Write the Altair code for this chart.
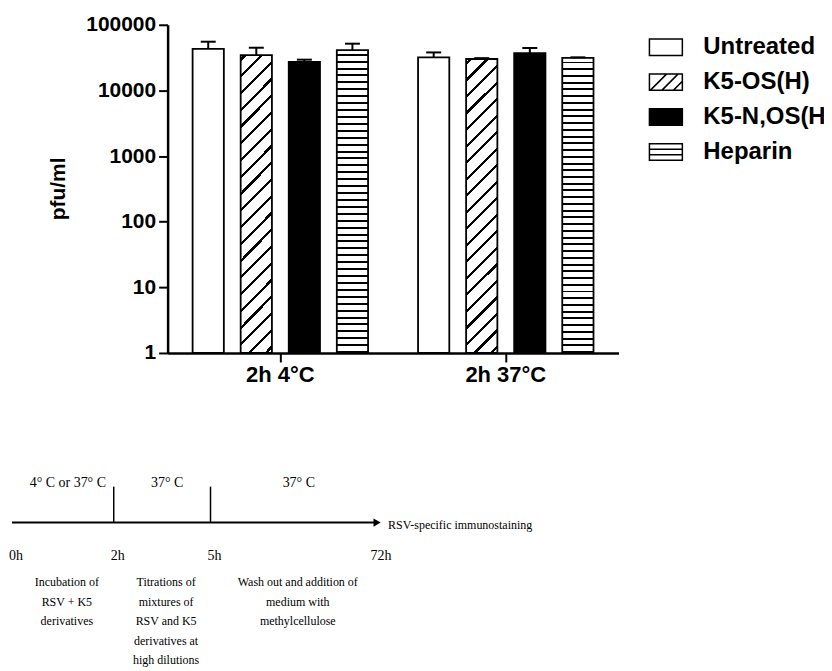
import altair as alt
import pandas as pd

# ---------------- data ----------------
groups = ["2h 4°C", "2h 37°C"]
treatments = ["Untreated", "K5-OS(H)", "K5-N,OS(H)", "Heparin"]
mean_4c = [42800, 34600, 27100, 41200]
err_4c = [12400, 10100, 2300, 10300]
mean_37c = [31800, 30100, 37100, 31200]
err_37c = [6100, 900, 7200, 700]
y_ticks = [1, 10, 100, 1000, 10000, 100000]

hours = [0, 2, 5, 72]
hour_labels = ["0h", "2h", "5h", "72h"]
phase_start = [0, 2, 5]
phase_end = [2, 5, 72]
phase_temp = ["4° C or 37° C", "37° C", "37° C"]
phase_desc = [
    "Incubation of\nRSV + K5\nderivatives",
    "Titrations of\nmixtures of\nRSV and K5\nderivatives at\nhigh dilutions",
    "Wash out and addition of\nmedium with\nmethylcellulose",
]
end_label = "RSV-specific immunostaining"

# ---------------- tables ----------------
rows = []
for g, means, errs in [(groups[0], mean_4c, err_4c), (groups[1], mean_37c, err_37c)]:
    for t, m, e in zip(treatments, means, errs):
        rows.append({"group": g, "treatment": t, "mean": m, "hi": m + e})
bar_df = pd.DataFrame(rows)

hours_df = pd.DataFrame({"hour": hours, "label": hour_labels})
phase_df = pd.DataFrame({"start": phase_start, "end": phase_end,
                         "temp": phase_temp, "desc": phase_desc})
span_df = pd.DataFrame({"start": [hours[0]], "end": [hours[-1]], "label": [end_label]})

# ---------------- styles ----------------
W, H = 818, 663
FONT = "Liberation Sans"
SERIF = "Liberation Serif"


def stripes(period, thick, phase=0.0):
    stops = [{"offset": 0, "color": "white"}]
    t = phase
    while t < 1:
        a = max(t, 0.0)
        b = min(t + thick, 1.0)
        stops += [{"offset": a, "color": "white"}, {"offset": a, "color": "black"},
                  {"offset": b, "color": "black"}, {"offset": b, "color": "white"}]
        t += period
    stops.append({"offset": 1, "color": "white"})
    return stops


bw, bh = 31.5, 297.0
c = (bw + bh) / (bw ** 2 + bh ** 2)
diag_fill = {"gradient": "linear", "x1": 0, "y1": 0, "x2": c * bw, "y2": c * bh,
             "stops": stripes(16.7 / (bw + bh), 3.2 / (bw + bh), 0.01)}
horiz_fill = {"gradient": "linear", "x1": 0, "y1": 0, "x2": 0, "y2": 1,
              "stops": stripes(6.85 / 300.0, 2.0 / 300.0, 0.012)}
bar_fills = ["white", diag_fill, "black", horiz_fill]

sym_paths = [
    "M-1,-0.5H1V0.5H-1Z",
    "M-1,-0.5H1V0.5H-1Z M-0.95,0.5L0.05,-0.5 M-0.25,0.5L0.75,-0.5 M0.45,0.5L1,-0.05",
    "M-1,-0.5H1V0.5H-1Z",
    "M-1,-0.5H1V0.5H-1Z M-1,-0.1667H1 M-1,0.1667H1",
]
sym_fills = ["white", "white", "black", "white"]
sym_strokes = ["black", "black", "black", "black"]

X_AXIS_Y = 345
x_enc = alt.X("group:N", sort=groups,
              scale=alt.Scale(domain=groups, range=[160, 612], paddingInner=0, paddingOuter=0),
              axis=alt.Axis(title=None, orient="bottom", offset=X_AXIS_Y - H, labelAngle=0,
                            labelFont=FONT, labelFontSize=22, labelFontWeight="bold",
                            labelColor="black", labelPadding=3, tickSize=9, tickWidth=2,
                            tickColor="black", domainWidth=2.5, domainColor="black",
                            grid=False))
xo_enc = alt.XOffset("treatment:N", sort=treatments,
                     scale=alt.Scale(domain=treatments, paddingInner=0.35, paddingOuter=0.52))
y_scale = alt.Scale(type="log", domain=[1, 100000], range=[X_AXIS_Y, 16], nice=False)
y_enc = alt.Y("mean:Q", scale=y_scale,
              axis=alt.Axis(title="pfu/ml", orient="left", offset=-160, values=y_ticks,
                            format="d", grid=False, labelFont=FONT, labelFontSize=21,
                            labelFontWeight="bold", labelColor="black", labelPadding=3,
                            tickSize=9, tickWidth=2, tickColor="black", domainWidth=2.5,
                            domainColor="black", titleFont=FONT, titleFontSize=21,
                            titleFontWeight="bold", titleColor="black", titleX=-109,
                            titleY=180, titleBaseline="middle", titleAlign="center"))

base = alt.Chart(bar_df)
bar_layers = []
for t, f in zip(treatments, bar_fills):
    bar_layers.append(
        base.transform_filter(alt.datum.treatment == t)
        .mark_bar(fill=f, stroke="black", strokeWidth=1.8)
        .encode(x=x_enc, xOffset=xo_enc, y=y_enc, y2=alt.Y2Datum(1))
    )

err_rule = base.mark_rule(color="black", strokeWidth=2).encode(
    x=x_enc, xOffset=xo_enc, y=y_enc, y2="hi:Q")
err_cap = base.mark_tick(orient="horizontal", color="black", thickness=2, size=15, opacity=1).encode(
    x=x_enc, xOffset=xo_enc, y=alt.Y("hi:Q", scale=y_scale))

leg = alt.Legend(title=None, orient="none", legendX=642, legendY=21, symbolSize=1089,
                 symbolStrokeWidth=1.5, labelFont=FONT,
                 labelFontSize=24, labelFontWeight="bold", labelColor="black",
                 labelOffset=20, rowPadding=5, padding=0)
legend_layer = base.transform_filter("false").mark_point(
    filled=True, strokeWidth=1.5, opacity=1).encode(
    x=x_enc, xOffset=xo_enc, y=y_enc,
    shape=alt.Shape("treatment:N", sort=treatments,
                    scale=alt.Scale(domain=treatments, range=sym_paths), legend=leg),
    fill=alt.Fill("treatment:N", sort=treatments,
                  scale=alt.Scale(domain=treatments, range=sym_fills), legend=leg),
    stroke=alt.Stroke("treatment:N", sort=treatments,
                      scale=alt.Scale(domain=treatments, range=sym_strokes), legend=leg),
)

top = alt.layer(*bar_layers, err_rule, err_cap, legend_layer)

# ---------------- timeline ----------------
tx = alt.Scale(domain=hours, range=[4, 106, 203, 370], nice=False, zero=False)
ROW_TEMP, ROW_TICK, ROW_AXIS, ROW_HOUR, ROW_DESC = 0, 1, 2, 3, 4
ty = alt.Scale(domain=[0, 1, 2, 3, 4], range=[475, 479, 515, 549, 570], nice=False, zero=False)

axis_line = alt.Chart(span_df).mark_rule(color="black", strokeWidth=2).encode(
    x=alt.X("start:Q", scale=tx, axis=None), x2="end:Q",
    y=alt.YDatum(ROW_AXIS, scale=ty, axis=None))
arrow = alt.Chart(span_df).mark_point(shape="triangle-right", filled=True, color="black",
                                      size=70, opacity=1).encode(
    x=alt.X("end:Q", scale=tx, axis=None), y=alt.YDatum(ROW_AXIS, scale=ty, axis=None))
ticks = alt.Chart(phase_df).transform_filter("datum.start > 0").mark_rule(
    color="black", strokeWidth=1.5).encode(
    x=alt.X("start:Q", scale=tx, axis=None),
    y=alt.YDatum(ROW_TICK, scale=ty, axis=None), y2=alt.Y2Datum(ROW_AXIS))
hour_text = alt.Chart(hours_df).mark_text(font=SERIF, fontSize=14, color="black", dx=4).encode(
    x=alt.X("hour:Q", scale=tx, axis=None), y=alt.YDatum(ROW_HOUR, scale=ty, axis=None),
    text="label:N")
temp_text = alt.Chart(phase_df).transform_calculate(
    mid="(datum.start + datum.end) / 2").mark_text(
    font=SERIF, fontSize=14, color="black", dx=5).encode(
    x=alt.X("mid:Q", scale=tx, axis=None), y=alt.YDatum(ROW_TEMP, scale=ty, axis=None),
    text="temp:N")
desc_text = alt.Chart(phase_df).transform_calculate(
    mid="(datum.start + datum.end) / 2").mark_text(
    font=SERIF, fontSize=12, color="black", dx=4, baseline="top", lineBreak="\n",
    lineHeight=19.5).encode(
    x=alt.X("mid:Q", scale=tx, axis=None), y=alt.YDatum(ROW_DESC, scale=ty, axis=None),
    text="desc:N")
end_text = alt.Chart(span_df).mark_text(font=SERIF, fontSize=12, color="black",
                                        align="left", dx=11, dy=2).encode(
    x=alt.X("end:Q", scale=tx, axis=None), y=alt.YDatum(ROW_AXIS, scale=ty, axis=None),
    text="label:N")

timeline = alt.layer(axis_line, arrow, ticks, hour_text, temp_text, desc_text, end_text)

chart = alt.layer(top, timeline).resolve_scale(
    x="independent", y="independent"
).properties(
    width=W, height=H, autosize=alt.AutoSizeParams(type="none"), padding=0
).configure(font=FONT).configure_view(stroke=None)

chart.save("out.html", embed_options={"renderer": "svg", "actions": False})
